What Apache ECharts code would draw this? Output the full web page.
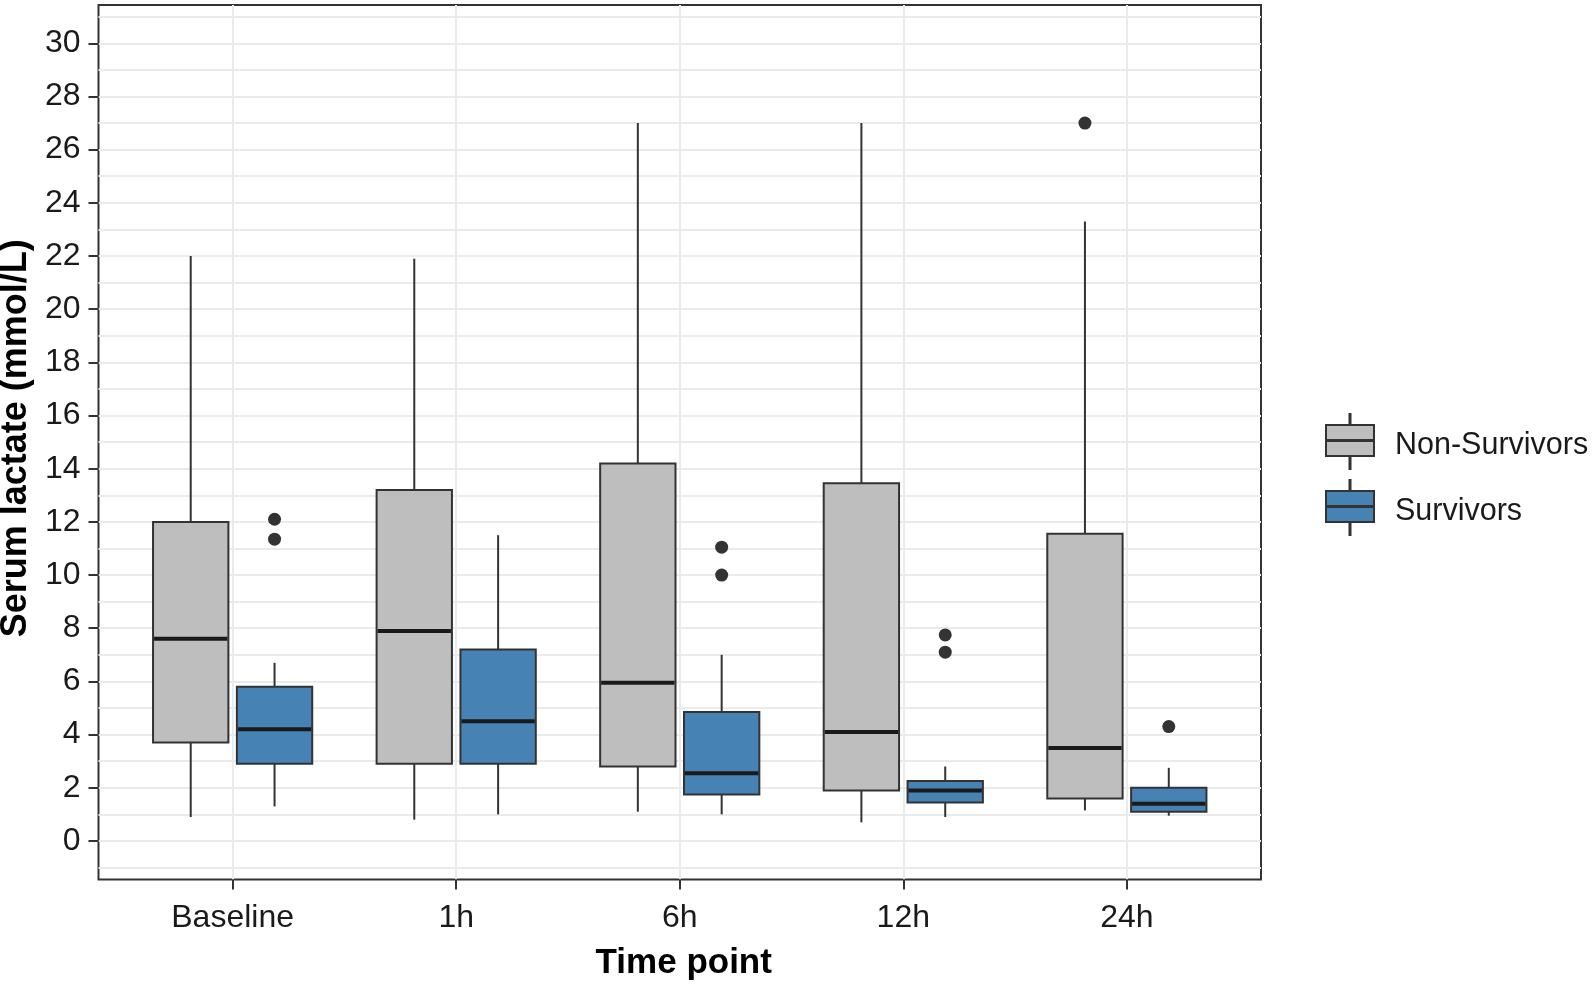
<!DOCTYPE html>
<html><head><meta charset="utf-8">
<script src="https://cdn.jsdelivr.net/npm/echarts@6/dist/echarts.min.js"></script>
<style>html,body{margin:0;padding:0;background:#fff}#chart{width:1594px;height:987px}</style>
</head><body><div id="chart"></div>
<script>
// ---------- data ----------
const categories = ['Baseline', '1h', '6h', '12h', '24h'];
const seriesNames = ['Non-Survivors', 'Survivors'];
// each row: [lower whisker, Q1, median, Q3, upper whisker]
const nonSurvivors = [
  [0.9, 3.7, 7.6, 12.0, 22.0],
  [0.8, 2.9, 7.9, 13.2, 21.9],
  [1.1, 2.8, 5.95, 14.2, 27.0],
  [0.7, 1.9, 4.1, 13.45, 27.0],
  [1.15, 1.6, 3.5, 11.55, 23.3]
];
const survivors = [
  [1.3, 2.9, 4.2, 5.8, 6.7],
  [1.0, 2.9, 4.5, 7.2, 11.5],
  [1.0, 1.75, 2.55, 4.85, 7.0],
  [0.9, 1.45, 1.9, 2.25, 2.8],
  [0.95, 1.1, 1.4, 2.0, 2.75]
];
// outliers: [category index, value]
const nonSurvivorOutliers = [[4, 27.0]];
const survivorOutliers = [[0, 12.1], [0, 11.35], [2, 11.05], [2, 10.0], [3, 7.75], [3, 7.1], [4, 4.3]];
const yTickValues = [0, 2, 4, 6, 8, 10, 12, 14, 16, 18, 20, 22, 24, 26, 28, 30];
const yMinorValues = [-1, 1, 3, 5, 7, 9, 11, 13, 15, 17, 19, 21, 23, 25, 27, 29, 31];

// ---------- layout / style ----------
const DODGE = 0.1875;
const BOX_W = 0.337;
const Y_MIN = -1.45, Y_MAX = 31.44;
const FONT = "'Liberation Sans', Arial, sans-serif";
const COLORS = ['#BEBEBE', '#4682B4'];
const STROKE = '#333333';
const GRID_COL = '#EBEBEB';

const catPos = categories.map((c, i) => i + 1);

function boxData(rows, shift) {
  return rows.map((r, i) => [catPos[i] + shift].concat(r));
}
function outlierData(list, shift) {
  return list.map(o => [catPos[o[0]] + shift, o[1]]);
}
function renderBox(fill) {
  return function (params, api) {
    const x = api.value(0);
    const lo = api.coord([x, api.value(1)]);
    const q1 = api.coord([x, api.value(2)]);
    const md = api.coord([x, api.value(3)]);
    const q3 = api.coord([x, api.value(4)]);
    const hi = api.coord([x, api.value(5)]);
    const w = api.size([BOX_W, 0])[0];
    const cx = lo[0];
    return {
      type: 'group',
      children: [
        { type: 'line', shape: { x1: cx, y1: hi[1], x2: cx, y2: q3[1] }, style: { stroke: STROKE, lineWidth: 2 } },
        { type: 'line', shape: { x1: cx, y1: q1[1], x2: cx, y2: lo[1] }, style: { stroke: STROKE, lineWidth: 2 } },
        { type: 'rect', shape: { x: cx - w / 2, y: q3[1], width: w, height: q1[1] - q3[1] }, style: { fill: fill, stroke: STROKE, lineWidth: 2 } },
        { type: 'line', shape: { x1: cx - w / 2 + 1, y1: md[1], x2: cx + w / 2 - 1, y2: md[1] }, style: { stroke: '#1a1a1a', lineWidth: 4 } }
      ]
    };
  };
}

const legendIcon = 'path://M23.5 0H24.5V11H23.5Z M0 11H48V42H0Z M0 26H48V27H0Z M23.5 42H24.5V55H23.5Z';

const chart = echarts.init(document.getElementById('chart'), null, { renderer: 'canvas' });
chart.setOption({
  backgroundColor: '#ffffff',
  animation: false,
  textStyle: { fontFamily: FONT },
  grid: {
    left: 98.5, right: 1594 - 1261, top: 5, bottom: 987 - 879.5,
    outerBoundsMode: 'none', containLabel: false,
    show: true, borderColor: STROKE, borderWidth: 2, backgroundColor: 'transparent'
  },
  legend: {
    orient: 'vertical',
    left: 1325, top: 413,
    padding: 0,
    itemWidth: 48, itemHeight: 55, itemGap: 9,
    formatter: '{t|{name}}',
    textStyle: {
      fontSize: 30.5, color: '#1a1a1a', fontFamily: FONT, padding: [0, 0, 0, 16],
      rich: { t: { fontSize: 30.5, color: '#1a1a1a', fontFamily: FONT, padding: [9, 0, 0, 0] } }
    },
    data: seriesNames.map((n, i) => ({
      name: n, icon: legendIcon,
      itemStyle: { color: COLORS[i], borderColor: STROKE, borderWidth: 2 }
    }))
  },
  xAxis: {
    type: 'value', min: 0.4, max: 5.6, position: 'bottom',
    axisLine: { show: false, onZero: false },
    axisTick: { show: true, length: 10, lineStyle: { color: STROKE, width: 2 }, customValues: catPos },
    axisLabel: {
      customValues: catPos, margin: 23, fontSize: 32, color: '#1a1a1a', fontFamily: FONT,
      formatter: v => categories[Math.round(v) - 1] || ''
    },
    splitLine: { show: true, lineStyle: { color: GRID_COL, width: 2 } },
    name: 'Time point', nameLocation: 'middle', nameGap: 66,
    nameTextStyle: { fontSize: 35, fontWeight: 'bold', color: '#000', fontFamily: FONT, padding: [0, 0, 0, 8] }
  },
  yAxis: [
    {
      type: 'value', min: Y_MIN, max: Y_MAX, position: 'left',
      axisLine: { show: false, onZero: false },
      axisTick: { show: true, length: 10, lineStyle: { color: STROKE, width: 2 }, customValues: yTickValues },
      axisLabel: { customValues: yTickValues, margin: 18, fontSize: 32, color: '#1a1a1a', fontFamily: FONT },
      splitLine: { show: true, lineStyle: { color: GRID_COL, width: 2 } },
      name: 'Serum lactate (mmol/L)', nameLocation: 'middle', nameGap: 47,
      nameTextStyle: { fontSize: 36, fontWeight: 'bold', color: '#000', fontFamily: FONT, padding: [0, 0, 0, 8] }
    },
    {
      type: 'value', min: Y_MIN, max: Y_MAX, position: 'left',
      axisLine: { show: false, onZero: false },
      axisTick: { show: false, customValues: yMinorValues },
      axisLabel: { show: false, customValues: yMinorValues },
      splitLine: { show: true, lineStyle: { color: GRID_COL, width: 2 } }
    }
  ],
  series: [
    {
      name: seriesNames[0], type: 'custom', renderItem: renderBox(COLORS[0]),
      itemStyle: { color: COLORS[0] },
      encode: { x: 0, y: [1, 2, 3, 4, 5] },
      data: boxData(nonSurvivors, -DODGE), z: 3
    },
    {
      name: seriesNames[1], type: 'custom', renderItem: renderBox(COLORS[1]),
      itemStyle: { color: COLORS[1] },
      encode: { x: 0, y: [1, 2, 3, 4, 5] },
      data: boxData(survivors, DODGE), z: 3
    },
    {
      name: seriesNames[0] + ' outliers', type: 'scatter', symbolSize: 13,
      itemStyle: { color: STROKE, opacity: 1 },
      data: outlierData(nonSurvivorOutliers, -DODGE), z: 4
    },
    {
      name: seriesNames[1] + ' outliers', type: 'scatter', symbolSize: 13,
      itemStyle: { color: STROKE, opacity: 1 },
      data: outlierData(survivorOutliers, DODGE), z: 4
    }
  ]
});
</script>
</body></html>
